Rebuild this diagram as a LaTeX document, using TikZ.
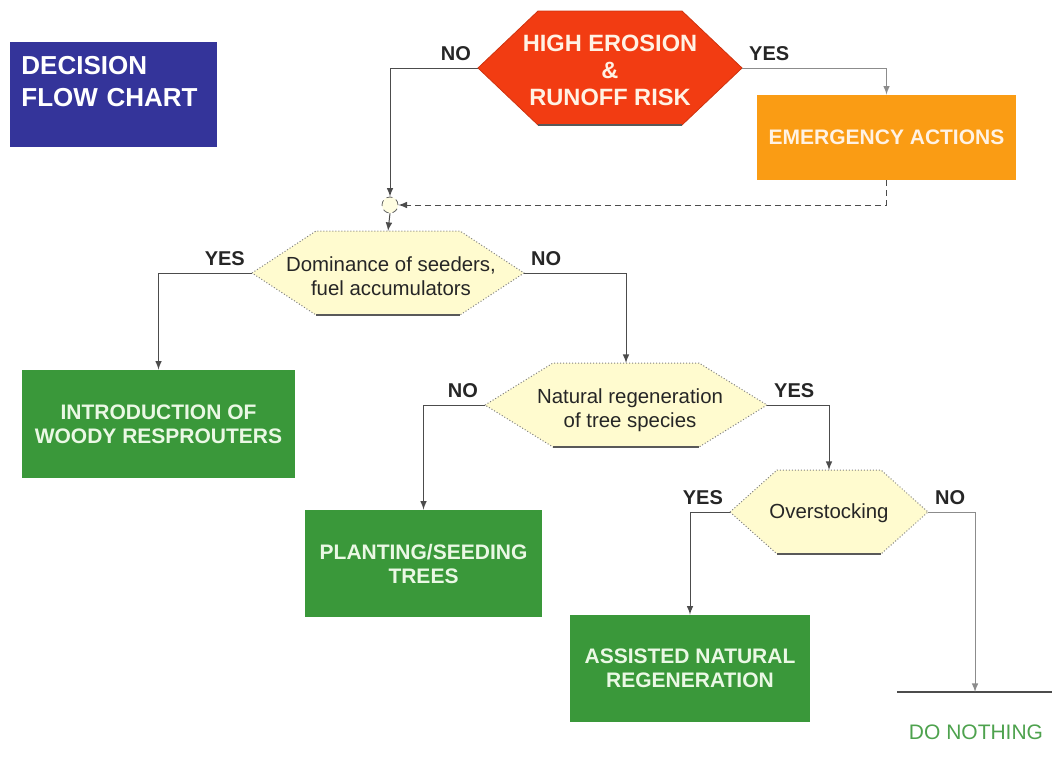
\documentclass[tikz,border=0pt]{standalone}
\usepackage{fontspec}
\setmainfont{Liberation Sans}
\usetikzlibrary{arrows}

\definecolor{chartblue}{HTML}{34349A}
\definecolor{riskred}{HTML}{F23C12}
\definecolor{actionorange}{HTML}{FA9C14}
\definecolor{actiongreen}{HTML}{3A983A}
\definecolor{askyellow}{HTML}{FFFBCF}
\definecolor{warmwhite}{HTML}{FFF2E4}
\definecolor{leafwhite}{HTML}{EAF8E4}

% decision hexagon: name, centre x, centre y, half width, half flat side, half height, style
\newcommand{\askhex}[7]{%
  \coordinate (#1-w) at (#2-#4,#3);
  \coordinate (#1-e) at (#2+#4,#3);
  \coordinate (#1-n) at (#2,#3-#6);
  \path[#7] (#1-w) -- (#2-#5,#3-#6) -- (#2+#5,#3-#6) -- (#1-e)
    -- (#2+#5,#3+#6) -- (#2-#5,#3+#6) -- cycle;
  \draw[hexbase] (#2-#5,#3+#6) -- (#2+#5,#3+#6);
}

\begin{document}
\begin{tikzpicture}[x=0.5pt,y=-0.5pt,>=latex,
    link/.style={->,draw=black!70,line width=0.5pt},
    lbl/.style={font=\fontsize{10}{12}\selectfont\bfseries,text=black!85},
    hexbase/.style={draw=black!65,line width=0.8pt},
    riskshape/.style={fill=riskred,draw=riskred!85!black,line width=0.4pt},
    askshape/.style={fill=askyellow,draw=black!50,densely dotted,line width=0.5pt},
    asktext/.style={align=center,font=\fontsize{10.2}{12.2}\selectfont,text=black!85},
    actionbox/.style={fill=actiongreen,text=leafwhite,align=center,inner sep=0pt,
        font=\fontsize{10.5}{12}\selectfont\bfseries},
    merge/.style={circle,draw=black!60,densely dashed,fill=askyellow!60,
        minimum size=8pt,inner sep=0pt}]
  \useasboundingbox (0,0) rectangle (1052,771);

  % title
  \node[fill=chartblue,text=white,anchor=north west,align=left,
        minimum width=103.5pt,minimum height=52.5pt,text width=92.5pt,inner xsep=5.5pt,
        font=\fontsize{13}{16}\selectfont\bfseries] (title) at (10,42)
        {DECISION\\FLOW CHART\\[-2.5pt]\mbox{}};

  % decisions
  \askhex{erosion}{610}{68}{132}{72}{57}{riskshape}
  \node[align=center,text=warmwhite,font=\fontsize{11.8}{13.5}\selectfont\bfseries]
        (erosion) at (610,70) {HIGH EROSION\\\&\\RUNOFF RISK};
  \askhex{dominance}{388}{273}{136}{72}{42}{askshape}
  \node[asktext] (dominance) at (391,276) {Dominance of seeders,\\fuel accumulators};
  \askhex{natural}{626}{405}{141}{73}{42}{askshape}
  \node[asktext] (natural) at (630,410) {Natural regeneration\\of tree species};
  \askhex{overstock}{829}{512}{99}{52}{42}{askshape}
  \node[asktext] (overstock) at (829,513) {Overstocking};

  % actions
  \node[actionbox,fill=actionorange,text=warmwhite,minimum width=129.5pt,minimum height=42.5pt]
        (emergency) at (886.5,137.5) {EMERGENCY ACTIONS};
  \node[actionbox,minimum width=136.5pt,minimum height=54pt]
        (intro) at (158.5,424) {INTRODUCTION OF\\WOODY RESPROUTERS};
  \node[actionbox,minimum width=118.5pt,minimum height=53.5pt]
        (planting) at (423.5,563.5) {PLANTING/SEEDING\\TREES};
  \node[actionbox,minimum width=120pt,minimum height=53.5pt]
        (assisted) at (690,668.5) {ASSISTED NATURAL\\REGENERATION};
  \node[merge] (merge) at (390,205) {};

  \coordinate (rule-l) at (897,692);
  \coordinate (rule-r) at (1052,692);
  \coordinate (nothing-in) at (975,692);
  \draw[black!70,line width=0.9pt] (rule-l) -- (rule-r);
  \node[text=actiongreen!90!white,font=\fontsize{10.5}{12}\selectfont] (nothing) at (976,732) {DO NOTHING};

  % connectors
  \draw[link] (erosion-w) node[lbl,above left] (erosion-no) {NO} -| (merge.north);
  \draw[link,draw=black!45] (erosion-e) node[lbl,above right] (erosion-yes) {YES} -| (emergency.north);
  \draw[link,dash pattern=on 3pt off 2pt] (emergency.south) |- (merge.east);
  \draw[link] (merge.south) -- (dominance-n);
  \draw[link] (dominance-w) node[lbl,above left] (dominance-yes) {YES} -| (intro.north);
  \draw[link] (dominance-e) node[lbl,above right] (dominance-no) {NO} -| (natural-n);
  \draw[link] (natural-w) node[lbl,above left] (natural-no) {NO} -| (planting.north);
  \draw[link] (natural-e) node[lbl,above right] (natural-yes) {YES} -| (overstock-n);
  \draw[link] (overstock-w) node[lbl,above left] (overstock-yes) {YES} -| (assisted.north);
  \draw[link,draw=black!45] (overstock-e) node[lbl,above right] (overstock-no) {NO} -| (nothing-in);
\end{tikzpicture}
\end{document}
